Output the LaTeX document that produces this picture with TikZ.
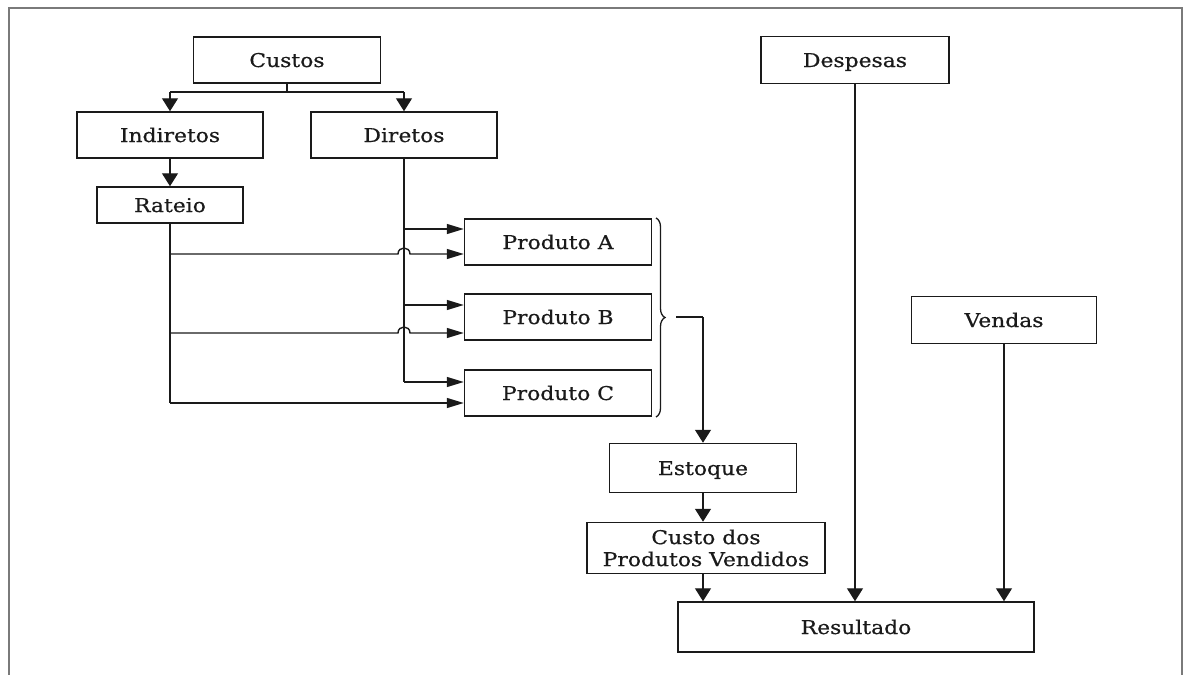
\documentclass[tikz,border=0pt]{standalone}
\usepackage{fontspec}
\setmainfont{DejaVu Serif}[FakeStretch=1.15, FakeBold=0.6]
\usetikzlibrary{arrows.meta,decorations.pathreplacing}

\definecolor{ink}{HTML}{1A1A1A}
\definecolor{framegray}{HTML}{7A7A7A}

\tikzset{
  box/.style={draw=ink, line width=1.5pt, rectangle, inner sep=0pt,
    font=\fontsize{19}{22}\selectfont, text=ink, align=center},
  onebox/.style={box, text height=14pt, text depth=0pt},
  link/.style={draw=ink, line width=1.4pt},
  varr/.style={link, -{Triangle[length=13pt,width=16pt]}},
  harr/.style={link, -{Triangle[length=17pt,width=10pt]}},
}

\begin{document}
\begin{tikzpicture}[x=1pt,y=-1pt]
  \useasboundingbox (0,0) rectangle (1184,675);

  % outer frame (open at the bottom)
  \draw[framegray, line width=2pt] (9,675) -- (9,8) -- (1182,8) -- (1182,675);

  % boxes
  \node[onebox, minimum width=187pt, minimum height=46pt] (custos)    at (287,60)    {Custos};
  \node[onebox, minimum width=186pt, minimum height=46pt] (indiretos) at (170,135)   {Indiretos};
  \node[onebox, minimum width=186pt, minimum height=46pt] (diretos)   at (404,135)   {Diretos};
  \node[onebox, minimum width=146pt, minimum height=36pt] (rateio)    at (170,205)   {Rateio};
  \node[onebox, minimum width=187pt, minimum height=46pt] (pa)        at (558,242)   {Produto A};
  \node[onebox, minimum width=187pt, minimum height=46pt] (pb)        at (558,317)   {Produto B};
  \node[onebox, minimum width=187pt, minimum height=46pt] (pc)        at (558,393)   {Produto C};
  \node[onebox, minimum width=188pt, minimum height=47pt] (despesas)  at (855,60)    {Despesas};
  \node[onebox, minimum width=185pt, minimum height=47pt] (vendas)    at (1004,320)  {Vendas};
  \node[onebox, minimum width=187pt, minimum height=49pt] (estoque)   at (703,468)   {Estoque};
  \node[box,    minimum width=238pt, minimum height=51pt] (cpv)       at (706,548)   {Custo dos\\Produtos Vendidos};
  \node[onebox, minimum width=356pt, minimum height=50pt] (resultado) at (856,627)   {Resultado};

  % Custos splits into indirect and direct costs
  \coordinate (split) at (287,92);
  \draw[link] (custos.south) -- (split);
  \draw[link] (170,92) -- (404,92);
  \draw[varr] (170,92) -- (indiretos.north);
  \draw[varr] (404,92) -- (diretos.north);
  \draw[varr] (indiretos.south) -- (rateio.north);

  % direct costs to each product
  \draw[link] (diretos.south) -- (404,382);
  \draw[harr] (404,382) -- (pc.west |- 0,382);
  \draw[harr] (404,229) -- (pa.west |- 0,229);
  \draw[harr] (404,305) -- (pb.west |- 0,305);

  % apportioned indirect costs to each product (hopping over the direct line)
  \draw[link] (rateio.south) -- (170,403);
  \draw[harr] (170,403) -- (pc.west |- 0,403);
  \draw[harr] (170,254) -- (398,254) .. controls (398,246) and (410,246) .. (410,254) -- (pa.west |- 0,254);
  \draw[harr] (170,333) -- (398,333) .. controls (398,325) and (410,325) .. (410,333) -- (pb.west |- 0,333);

  % brace grouping the products
  \draw[ink, line width=1.3pt, decorate, decoration={brace, amplitude=9pt}]
    (656,218) -- (656,417);
  \coordinate (bracetip) at (676,317);
  \draw[link] (bracetip) -- (703,317);
  \draw[varr] (703,317) -- (estoque.north);

  % stock to cost of goods sold to result
  \draw[varr] (estoque.south) -- (cpv.north -| estoque.south);
  \draw[varr] (cpv.south -| estoque.south) -- (resultado.north -| estoque.south);
  \draw[varr] (despesas.south) -- (resultado.north -| despesas.south);
  \draw[varr] (vendas.south) -- (resultado.north -| vendas.south);
\end{tikzpicture}
\end{document}
